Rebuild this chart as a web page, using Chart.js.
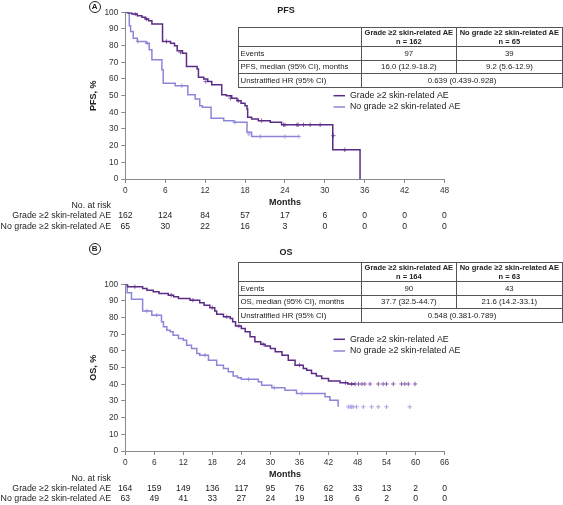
<!DOCTYPE html>
<html>
<head>
<meta charset="utf-8">
<script src="https://cdn.jsdelivr.net/npm/chart.js@4.4.0/dist/chart.umd.min.js"></script>
<style>
  body { margin: 0; background: #fff; font-family: Arial, "Liberation Sans", sans-serif; color: #222; }
  #wrap { position: relative; width: 563px; height: 505px; overflow: hidden; }
  canvas { position: absolute; left: 0; }
  .tag { position: absolute; left: 88.5px; width: 10.5px; height: 10.5px; border: 1px solid #222; border-radius: 50%;
         font-size: 8px; font-weight: bold; text-align: center; line-height: 10.5px; }
  .ttl { position: absolute; left: 286px; font-size: 9px; font-weight: bold; transform: translate(-50%, -50%); }
  table.sum { position: absolute; left: 237.5px; width: 324.5px; border-collapse: collapse; table-layout: fixed;
              font-size: 7.8px; color: #222; }
  table.sum td { border: 1px solid #555; padding: 0 2px; white-space: nowrap; overflow: hidden; line-height: 9px; }
  table.sum td.c { text-align: center; }
  table.sum tr.h td { font-weight: bold; font-size: 7.5px; padding: 0 1px; height: 17px; line-height: 9.3px; }
  table.sum tr.r td { height: 12.6px; }
</style>
</head>
<body>
<div id="wrap">
  <canvas id="pfsChart" width="563" height="250" style="top:0"></canvas>
  <canvas id="osChart" width="563" height="255" style="top:250px"></canvas>

  <div class="tag" style="top:0.5px">A</div>
  <div class="ttl" style="top:10px">PFS</div>
  <table class="sum" style="top:26.5px">
    <colgroup><col style="width:123.5px"><col style="width:94.7px"><col style="width:106.3px"></colgroup>
    <tr class="h"><td></td><td class="c">Grade ≥2 skin-related AE<br>n = 162</td><td class="c">No grade ≥2 skin-related AE<br>n = 65</td></tr>
    <tr class="r"><td>Events</td><td class="c">97</td><td class="c">39</td></tr>
    <tr class="r"><td>PFS, median (95% CI), months</td><td class="c">16.0 (12.9-18.2)</td><td class="c">9.2 (5.6-12.9)</td></tr>
    <tr class="r"><td>Unstratified HR (95% CI)</td><td class="c" colspan="2">0.639 (0.439-0.928)</td></tr>
  </table>

  <div class="tag" style="top:242.5px">B</div>
  <div class="ttl" style="top:251.7px">OS</div>
  <table class="sum" style="top:261.5px">
    <colgroup><col style="width:123.5px"><col style="width:94.7px"><col style="width:106.3px"></colgroup>
    <tr class="h"><td></td><td class="c">Grade ≥2 skin-related AE<br>n = 164</td><td class="c">No grade ≥2 skin-related AE<br>n = 63</td></tr>
    <tr class="r"><td>Events</td><td class="c">90</td><td class="c">43</td></tr>
    <tr class="r"><td>OS, median (95% CI), months</td><td class="c">37.7 (32.5-44.7)</td><td class="c">21.6 (14.2-33.1)</td></tr>
    <tr class="r"><td>Unstratified HR (95% CI)</td><td class="c" colspan="2">0.548 (0.381-0.789)</td></tr>
  </table>
</div>

<script>
const groupNames = ['Grade ≥2 skin-related AE', 'No grade ≥2 skin-related AE'];
const DARK = '#5b2b86';
const LIGHT = '#8c85d8';
const DARK_MARK = '#8a64ad';
const LIGHT_MARK = '#a9a3e4';
const FONT = 'Arial, "Liberation Sans", sans-serif';

// PFS panel
const pfsMonths = [0, 6, 12, 18, 24, 30, 36, 42, 48];
const pfsRiskGrade = [162, 124, 84, 57, 17, 6, 0, 0, 0];
const pfsRiskNoGrade = [65, 30, 22, 16, 3, 0, 0, 0, 0];

const pfsGradeT = [0, 0.4, 1.0, 1.8, 2.5, 3.0, 3.5, 4.0, 5.6, 6.8, 7.4, 7.8, 8.6, 9.2, 10.8, 11.0, 11.8, 12.4, 13.0,
                   14.5, 15.2, 16.0, 16.8, 17.4, 18.0, 18.3, 18.4, 19.0, 20.0, 21.8, 23.5, 31.2, 35.3];
const pfsGradeS = [100, 99.6, 99, 98, 97, 96, 95, 93, 82.5, 81.5, 80, 77, 75.5, 67.5, 66, 61, 60, 58.5, 56.5,
                   50.5, 50, 48.5, 47, 45.5, 44, 42, 37, 36, 35, 34, 32.5, 17.5, 0];
const pfsNoGradeT = [0, 0.6, 0.8, 1.2, 1.8, 3.1, 3.6, 4.0, 5.5, 5.7, 7.5, 9.4, 10.5, 11.2, 11.6, 12.9, 14.8, 16.3, 18.3, 19.0, 26.1];
const pfsNoGradeS = [100, 92, 88.5, 84.5, 82.5, 81.5, 77.5, 71.5, 65.5, 57.5, 56, 50.5, 48, 44, 43, 36.5, 35, 34, 28, 25.5, 25.5];

const pfsGradeCensT = [1.5, 3.2, 6.2, 8.3, 12.1, 15.8, 17.0, 20.5, 23.8, 24.0, 25.8, 26.0, 26.8, 27.8, 29.3, 31.3, 33.0];
const pfsGradeCensS = [99, 96, 82.5, 76, 58.5, 48.5, 47, 35, 32.5, 32.5, 32.5, 32.5, 32.5, 32.5, 32.5, 26, 17.5];
const pfsNoGradeCensT = [1.9, 3.3, 8.5, 16.5, 18.6, 20.3, 24.0, 26.1];
const pfsNoGradeCensS = [82.5, 81.5, 56, 34, 27, 25.5, 25.5, 25.5];

// OS panel
const osMonths = [0, 6, 12, 18, 24, 30, 36, 42, 48, 54, 60, 66];
const osRiskGrade = [164, 159, 149, 136, 117, 95, 76, 62, 33, 13, 2, 0];
const osRiskNoGrade = [63, 49, 41, 33, 27, 24, 19, 18, 6, 2, 0, 0];

const osGradeT = [0, 0.5, 3.6, 4.5, 5.8, 7.0, 8.9, 10.0, 11.0, 13.4, 15.4, 16.3, 17.5, 18.5, 18.9, 20.3, 21.7, 22.2, 22.8,
                  24.0, 24.8, 25.8, 26.8, 28.0, 28.9, 30.0, 31.0, 32.4, 33.7, 35.1, 36.8, 37.5, 38.5, 39.5, 40.6, 42.0,
                  44.4, 46.0, 47.5];
const osGradeS = [100, 98.6, 97.5, 96.5, 95.5, 94.5, 93.5, 92.5, 91.5, 90.5, 89, 87.5, 86, 84, 82, 80.5, 79.5, 77.5, 75,
                  73.5, 71.5, 68.5, 65.5, 64, 63, 61.5, 59.5, 57.5, 54.5, 51.5, 49.5, 48.5, 46.5, 45, 43.5, 42,
                  41, 40.2, 40.2];
const osNoGradeT = [0, 0.4, 1.3, 3.6, 5.5, 7.5, 7.9, 8.6, 9.3, 9.9, 11.0, 12.0, 12.7, 13.7, 14.8, 15.4, 17.2, 18.9, 20.3,
                    21.3, 22.3, 23.2, 24.0, 27.5, 28.2, 30.3, 33.0, 35.4, 41.3, 42.3, 44.0];
const osNoGradeS = [100, 95, 91, 84, 81.5, 77.5, 74.5, 72.5, 71.5, 69.5, 67.5, 66.5, 63.5, 61.5, 58.5, 57.5, 54.5, 51.5, 49.5,
                    47.5, 45, 44, 43, 41.5, 39.5, 38, 36.5, 34.5, 32.5, 30.5, 26.5];

const osGradeCensT = [2.0, 9.5, 14.0, 18.0, 21.0, 23.5, 28.5, 36.0, 45.5, 46.8, 47.5, 48.2, 48.9, 49.5, 50.6, 52.3,
                      53.3, 54.0, 55.4, 57.1, 57.8, 58.5, 59.9];
const osGradeCensS = [98.6, 93.5, 90.5, 86, 80.5, 75, 64, 51.5, 41, 40.2, 40.2, 40.2, 40.2, 40.2, 40.2, 40.2,
                      40.2, 40.2, 40.2, 40.2, 40.2, 40.2, 40.2];
const osNoGradeCensT = [4.5, 6.5, 16.5, 25.5, 30.8, 36.5, 46.1, 46.5, 46.8, 47.1, 47.8, 49.2, 50.9, 52.3, 54.0, 58.8];
const osNoGradeCensS = [84, 81.5, 57.5, 43, 38, 34.5, 26.5, 26.5, 26.5, 26.5, 26.5, 26.5, 26.5, 26.5, 26.5, 26.5];

function kmPoints(t, s) {
    return t.map((v, i) => ({ x: v, y: s[i] }));
}

// Risk table and legend, drawn under / beside the plot
const kmExtras = {
    id: 'kmExtras',
    afterDraw(chart, args, opts) {
        const ctx = chart.ctx;
        const xs = chart.scales.x;
        ctx.save();
        ctx.fillStyle = '#222';
        ctx.textBaseline = 'middle';
        ctx.font = '8.8px ' + FONT;
        ctx.textAlign = 'right';
        ctx.fillText('No. at risk', 111, opts.riskY[0]);
        opts.risk.forEach((row, i) => {
            ctx.textAlign = 'right';
            ctx.font = '8.8px ' + FONT;
            ctx.fillText(groupNames[i], 111, opts.riskY[i + 1]);
            ctx.textAlign = 'center';
            ctx.font = '8.6px ' + FONT;
            row.forEach((n, j) => {
                ctx.fillText(String(n), xs.getPixelForValue(opts.months[j]), opts.riskY[i + 1]);
            });
        });

        // legend
        ctx.font = '8.8px ' + FONT;
        ctx.textAlign = 'left';
        [DARK, LIGHT].forEach((c, i) => {
            const y = opts.legendY[i];
            ctx.strokeStyle = c;
            ctx.lineWidth = 1.5;
            ctx.beginPath();
            ctx.moveTo(333.5, y);
            ctx.lineTo(345, y);
            ctx.stroke();
            ctx.fillText(groupNames[i], 350, y);
        });
        ctx.restore();
    }
};

function buildPanel(id, p) {
    const ctx = document.getElementById(id).getContext('2d');
    const axisColor = '#8a8a8a';
    return new Chart(ctx, {
        type: 'line',
        data: {
            datasets: [
                { data: kmPoints(p.gradeT, p.gradeS), borderColor: DARK, borderWidth: 1.5, stepped: true, pointRadius: 0, fill: false },
                { data: kmPoints(p.noT, p.noS), borderColor: LIGHT, borderWidth: 1.5, stepped: true, pointRadius: 0, fill: false },
                { data: kmPoints(p.gradeCT, p.gradeCS), showLine: false, pointStyle: 'cross', pointRadius: 2.2,
                  borderColor: DARK_MARK, borderWidth: 1 },
                { data: kmPoints(p.noCT, p.noCS), showLine: false, pointStyle: 'cross', pointRadius: 2.2,
                  borderColor: LIGHT_MARK, borderWidth: 1 }
            ]
        },
        options: {
            responsive: false,
            animation: false,
            events: [],
            layout: { padding: { left: 88.6, right: p.padRight, top: p.padTop, bottom: p.padBottom } },
            plugins: {
                legend: { display: false },
                tooltip: { enabled: false },
                kmExtras: { months: p.months, risk: p.risk, riskY: p.riskY, legendY: p.legendY }
            },
            scales: {
                x: {
                    type: 'linear',
                    min: 0,
                    max: p.xMax,
                    afterFit: s => { s.height = p.xHeight; },
                    border: { color: axisColor, width: 1 },
                    grid: { drawOnChartArea: false, drawTicks: true, tickLength: 4, color: axisColor },
                    ticks: { stepSize: 6, padding: 3, color: '#333', font: { size: 8.3, family: FONT } },
                    title: { display: true, text: 'Months', padding: 0, color: '#222',
                             font: { size: 9, weight: 'bold', family: FONT } }
                },
                y: {
                    min: 0,
                    max: 100,
                    afterFit: s => { s.width = p.yWidth; },
                    border: { color: axisColor, width: 1 },
                    grid: { drawOnChartArea: false, drawTicks: true, tickLength: 4, color: axisColor },
                    ticks: { stepSize: 10, padding: 3, color: '#333', font: { size: 8.3, family: FONT } },
                    title: { display: true, text: p.yTitle, padding: 0, color: '#222',
                             font: { size: 9, weight: 'bold', family: FONT } }
                }
            }
        },
        plugins: [kmExtras]
    });
}

buildPanel('pfsChart', {
    months: pfsMonths, xMax: 48, yTitle: 'PFS, %',
    risk: [pfsRiskGrade, pfsRiskNoGrade],
    gradeT: pfsGradeT, gradeS: pfsGradeS, noT: pfsNoGradeT, noS: pfsNoGradeS,
    gradeCT: pfsGradeCensT, gradeCS: pfsGradeCensS, noCT: pfsNoGradeCensT, noCS: pfsNoGradeCensS,
    padTop: 12.3, padRight: 118.5, padBottom: 42.5, xHeight: 28.5, yWidth: 36.7,
    riskY: [205.7, 216, 226.2], legendY: [95.7, 107]
});

buildPanel('osChart', {
    months: osMonths, xMax: 66, yTitle: 'OS, %',
    risk: [osRiskGrade, osRiskNoGrade],
    gradeT: osGradeT, gradeS: osGradeS, noT: osNoGradeT, noS: osNoGradeS,
    gradeCT: osGradeCensT, gradeCS: osGradeCensS, noCT: osNoGradeCensT, noCS: osNoGradeCensS,
    padTop: 34.3, padRight: 118.4, padBottom: 24.6, xHeight: 29.4, yWidth: 36.6,
    riskY: [228.7, 238.7, 249], legendY: [89.3, 101]
});
</script>
</body>
</html>
